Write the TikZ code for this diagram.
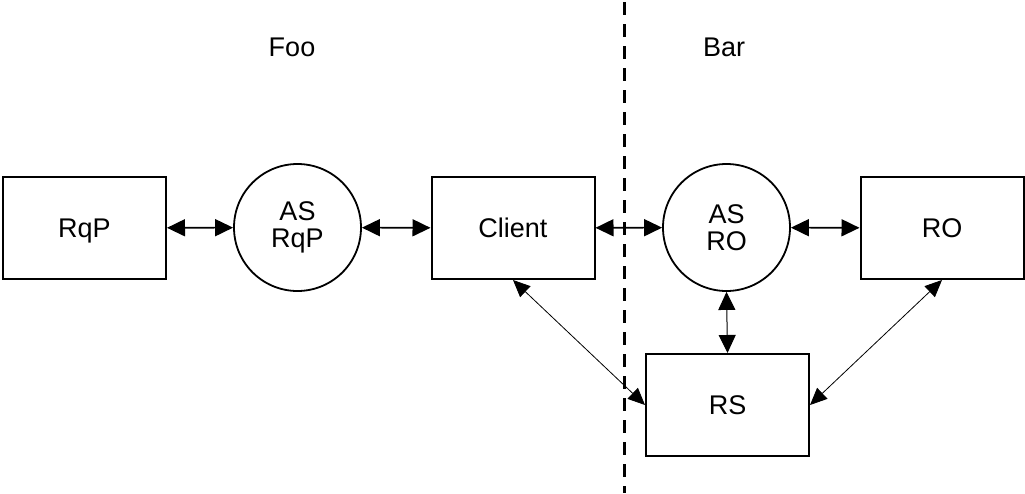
\documentclass[tikz,border=0pt]{standalone}
\usepackage{fontspec}
\setmainfont{Liberation Sans}
\usetikzlibrary{arrows.meta}
\begin{document}
\begin{tikzpicture}[x=1pt,y=-1pt,
  txt/.style={font=\fontsize{27}{27}\selectfont},
  box/.style={draw, line width=2pt, rectangle, minimum width=163pt, minimum height=102pt, inner sep=0pt, text depth=0pt, txt},
  circ/.style={draw, circle, line width=1.8pt, minimum size=127pt, inner sep=0pt, align=center, txt},
  biarrow/.style={{Triangle[length=18pt,width=17pt]}-{Triangle[length=18pt,width=17pt]}, line width=1.6pt},
  thinarrow/.style={{Triangle[length=17pt,width=15pt]}-{Triangle[length=17pt,width=15pt]}, line width=0.8pt},
  divider/.style={line width=3pt, dash pattern=on 13pt off 9pt}
]
\useasboundingbox (0,0) rectangle (1025,493);
\fill[white] (0,0) rectangle (1025,493);

\coordinate (dtop) at (624,2);
\coordinate (dbot) at (624,493);
\draw[divider] (dtop) -- (dbot);

\node[txt] (foo) at (292,47.5) {Foo};
\node[txt] (bar) at (724,47.5) {Bar};

\node[box] (rqp) at (84.5,228) {RqP};
\node[circ] (asrqp) at (297.5,227.5) {AS\\RqP};
\node[box] (client) at (513,228) {Client};
\node[circ] (asro) at (726.5,227.5) {AS\\RO};
\node[box] (ro) at (942,228) {RO};
\node[box] (rs) at (727.5,405) {RS};

\draw[biarrow] (rqp) -- (asrqp);
\draw[biarrow] (asrqp) -- (client);
\draw[biarrow] (client) -- (asro);
\draw[biarrow] (asro) -- (ro);
\draw[biarrow, line width=1pt] (asro.south) -- (rs.north);
\draw[thinarrow] (client.south) -- (rs.west);
\draw[thinarrow] (ro.south) -- (rs.east);
\end{tikzpicture}
\end{document}
